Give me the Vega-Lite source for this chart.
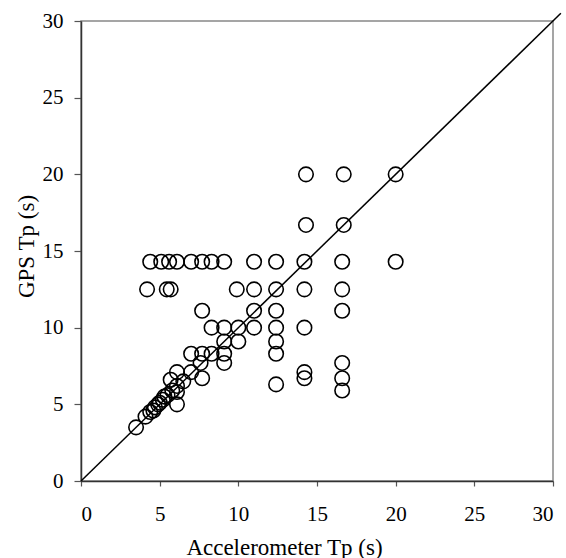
{
  "$schema": "https://vega.github.io/schema/vega-lite/v6.json",
  "width": 472,
  "height": 460,
  "autosize": "none",
  "padding": {"left": 81, "top": 21, "right": 13, "bottom": 77},
  "background": "white",
  "config": {
    "view": {"stroke": "#888888", "strokeWidth": 1.5},
    "font": "Liberation Serif"
  },
  "datasets": {
    "pts": [
      {"acc": 14.3, "gps": 20}, {"acc": 16.7, "gps": 20}, {"acc": 20, "gps": 20},
      {"acc": 14.3, "gps": 16.7}, {"acc": 16.7, "gps": 16.7},
      {"acc": 4.4, "gps": 14.3}, {"acc": 5.1, "gps": 14.3}, {"acc": 5.6, "gps": 14.3}, {"acc": 6.1, "gps": 14.3},
      {"acc": 7.0, "gps": 14.3}, {"acc": 7.7, "gps": 14.3}, {"acc": 8.3, "gps": 14.3}, {"acc": 9.1, "gps": 14.3},
      {"acc": 11.0, "gps": 14.3}, {"acc": 12.4, "gps": 14.3}, {"acc": 14.2, "gps": 14.3}, {"acc": 16.6, "gps": 14.3},
      {"acc": 20, "gps": 14.3},
      {"acc": 4.2, "gps": 12.5}, {"acc": 5.45, "gps": 12.5}, {"acc": 5.7, "gps": 12.5}, {"acc": 9.9, "gps": 12.5},
      {"acc": 11.0, "gps": 12.5}, {"acc": 12.4, "gps": 12.5}, {"acc": 14.2, "gps": 12.5}, {"acc": 16.6, "gps": 12.5},
      {"acc": 7.7, "gps": 11.1}, {"acc": 11.0, "gps": 11.1}, {"acc": 12.4, "gps": 11.1}, {"acc": 16.6, "gps": 11.1},
      {"acc": 8.3, "gps": 10}, {"acc": 9.1, "gps": 10}, {"acc": 10, "gps": 10}, {"acc": 11.0, "gps": 10},
      {"acc": 12.4, "gps": 10}, {"acc": 14.2, "gps": 10},
      {"acc": 9.1, "gps": 9.1}, {"acc": 10, "gps": 9.1}, {"acc": 12.4, "gps": 9.1},
      {"acc": 7.0, "gps": 8.3}, {"acc": 7.7, "gps": 8.3}, {"acc": 8.3, "gps": 8.3}, {"acc": 9.1, "gps": 8.3},
      {"acc": 12.4, "gps": 8.3},
      {"acc": 7.6, "gps": 7.7}, {"acc": 9.1, "gps": 7.7}, {"acc": 16.6, "gps": 7.7},
      {"acc": 6.1, "gps": 7.1}, {"acc": 7.0, "gps": 7.1}, {"acc": 14.2, "gps": 7.1},
      {"acc": 7.7, "gps": 6.7}, {"acc": 5.7, "gps": 6.6}, {"acc": 6.5, "gps": 6.5}, {"acc": 14.2, "gps": 6.7},
      {"acc": 16.6, "gps": 6.7},
      {"acc": 6.1, "gps": 6.2}, {"acc": 12.4, "gps": 6.3}, {"acc": 6.1, "gps": 5.8}, {"acc": 16.6, "gps": 5.9},
      {"acc": 6.1, "gps": 5.0},
      {"acc": 3.5, "gps": 3.5}, {"acc": 4.1, "gps": 4.2}, {"acc": 4.4, "gps": 4.5}, {"acc": 4.7, "gps": 4.8},
      {"acc": 4.9, "gps": 5.0}, {"acc": 5.2, "gps": 5.3}, {"acc": 5.5, "gps": 5.6}, {"acc": 5.8, "gps": 5.9},
      {"acc": 4.6, "gps": 4.6}, {"acc": 5.0, "gps": 5.1}, {"acc": 5.3, "gps": 5.5}
    ],
    "diag": [{"acc": 0, "gps": 0}, {"acc": 30.5, "gps": 30.5}]
  },
  "layer": [
    {
      "data": {"name": "diag"},
      "mark": {"type": "line", "color": "black", "strokeWidth": 1.5, "clip": false},
      "encoding": {
        "x": {"field": "acc", "type": "quantitative"},
        "y": {"field": "gps", "type": "quantitative"}
      }
    },
    {
      "data": {"name": "pts"},
      "mark": {"type": "point", "shape": "circle", "filled": false, "color": "black", "strokeWidth": 1.6, "size": 210, "opacity": 1},
      "encoding": {
        "x": {
          "field": "acc", "type": "quantitative",
          "scale": {"domain": [0, 30], "nice": false, "zero": false},
          "axis": {
            "title": "Accelerometer Tp (s)", "values": [0, 5, 10, 15, 20, 25, 30], "grid": false,
            "domainColor": "#333333", "domainWidth": 1.5, "tickColor": "#555555", "tickSize": 5, "tickWidth": 1.2,
            "labelFont": "Liberation Serif", "labelFontSize": 21, "labelColor": "black", "labelPadding": 17,
            "titleFont": "Liberation Serif", "titleFontSize": 23, "titleFontWeight": "normal", "titleColor": "black",
            "titleX": 203, "titleY": 66, "titleBaseline": "middle", "titleAnchor": "middle"
          }
        },
        "y": {
          "field": "gps", "type": "quantitative",
          "scale": {"domain": [0, 30], "nice": false, "zero": false},
          "axis": {
            "title": "GPS Tp (s)", "values": [0, 5, 10, 15, 20, 25, 30], "grid": false,
            "domainColor": "#333333", "domainWidth": 1.5, "tickColor": "#555555", "tickSize": 7, "tickWidth": 1.2,
            "labelFont": "Liberation Serif", "labelFontSize": 21, "labelColor": "black", "labelPadding": 11,
            "titleFont": "Liberation Serif", "titleFontSize": 23, "titleFontWeight": "normal", "titleColor": "black",
            "titleX": -55, "titleY": 225, "titleBaseline": "middle", "titleAnchor": "middle"
          }
        }
      }
    }
  ]
}
